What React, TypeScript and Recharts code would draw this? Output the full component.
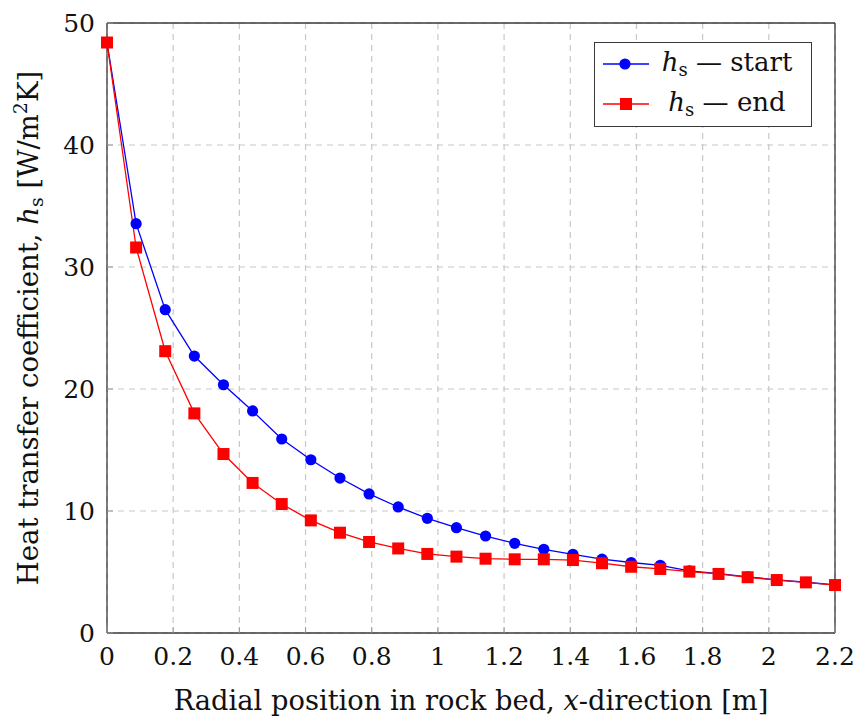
import { CartesianGrid, Label, Legend, Line, LineChart, ReferenceLine, XAxis, YAxis } from 'recharts'

// radial positions [m] and heat transfer coefficient h_s [W/m2K]
const positions = [
  0, 0.088, 0.176, 0.264, 0.352, 0.44, 0.528, 0.616, 0.704, 0.792, 0.88, 0.968, 1.056,
  1.144, 1.232, 1.32, 1.408, 1.496, 1.584, 1.672, 1.76, 1.848, 1.936, 2.024, 2.112, 2.2,
]
const hsStart = [
  48.4, 33.55, 26.5, 22.7, 20.35, 18.2, 15.9, 14.2, 12.7, 11.4, 10.33, 9.4, 8.63,
  7.95, 7.35, 6.86, 6.45, 6.05, 5.78, 5.55, 5.1, 4.86, 4.6, 4.36, 4.16, 3.95,
]
const hsEnd = [
  48.4, 31.6, 23.1, 18.0, 14.67, 12.3, 10.57, 9.23, 8.22, 7.46, 6.93, 6.48, 6.26,
  6.09, 6.04, 6.04, 5.98, 5.72, 5.43, 5.25, 5.03, 4.84, 4.57, 4.34, 4.15, 3.93,
]
const xTicks = [0, 0.2, 0.4, 0.6, 0.8, 1, 1.2, 1.4, 1.6, 1.8, 2, 2.2]
const yTicks = [0, 10, 20, 30, 40, 50]

const data = positions.map((x, i) => ({ x, start: hsStart[i], end: hsEnd[i] }))

const FONT = '"DejaVu Serif", serif'
const AXIS = '#3a3a3a'
const TEXT = '#111'

function XTick({ x, y, payload }: any) {
  return (
    <g>
      <line x1={x} x2={x} y1={y} y2={y - 6} stroke="#999" />
      <text x={x} y={y + 32} textAnchor="middle" fontSize={25} fontFamily={FONT} fill={TEXT}>
        {payload.value}
      </text>
    </g>
  )
}

function YTick({ x, y, payload }: any) {
  return (
    <g>
      <line x1={x} x2={x + 6} y1={y} y2={y} stroke="#999" />
      <text x={x - 12} y={y + 9} textAnchor="end" fontSize={25} fontFamily={FONT} fill={TEXT}>
        {payload.value}
      </text>
    </g>
  )
}

function XTitle({ viewBox }: any) {
  return (
    <text x={viewBox.x + viewBox.width / 2} y={viewBox.y + 77} textAnchor="middle" fontSize={27.3} fontFamily={FONT} fill={TEXT}>
      Radial position in rock bed, <tspan fontStyle="italic">x</tspan>-direction [m]
    </text>
  )
}

function YTitle({ viewBox }: any) {
  const cx = viewBox.x + 38
  const cy = viewBox.y + viewBox.height / 2
  return (
    <text x={cx} y={cy} transform={`rotate(-90, ${cx}, ${cy})`} textAnchor="middle" fontSize={27.5} fontFamily={FONT} fill={TEXT}>
      Heat transfer coefficient, <tspan fontStyle="italic">h</tspan>
      <tspan fontSize={19} dy={5}>s</tspan>
      <tspan dy={-5}> [W/m</tspan>
      <tspan fontSize={19} dy={-11}>2</tspan>
      <tspan dy={11}>K]</tspan>
    </text>
  )
}

function BlueDot({ cx, cy, index }: any) {
  return <circle key={`s-${index}`} cx={cx} cy={cy} r={5.6} fill="#0000ff" />
}

function RedSquare({ cx, cy, index }: any) {
  return <rect key={`e-${index}`} x={cx - 6} y={cy - 6} width={12} height={12} fill="#ff0000" />
}

function LegendRow({ color, square, label }: { color: string; square: boolean; label: string }) {
  return (
    <div style={{ display: 'flex', alignItems: 'center', height: 40 }}>
      <svg width={46} height={20}>
        <line x1={0} x2={46} y1={10} y2={10} stroke={color} strokeWidth={1.3} />
        {square ? <rect x={17} y={4} width={12} height={12} fill={color} /> : <circle cx={22} cy={10} r={5.6} fill={color} />}
      </svg>
      <span style={{ flex: 1, textAlign: 'center', paddingRight: 6, paddingTop: 4, whiteSpace: 'nowrap' }}>
        <i>h</i>
        <span style={{ fontSize: 18, verticalAlign: '-5px' }}>s</span> — {label}
      </span>
    </div>
  )
}

function LegendBox() {
  return (
    <div
      style={{
        width: 218,
        height: 85,
        boxSizing: 'border-box',
        border: `1.3px solid ${AXIS}`,
        background: '#fff',
        paddingLeft: 8,
        paddingTop: 1,
        fontFamily: FONT,
        fontSize: 26,
        color: TEXT,
        lineHeight: '36px',
      }}
    >
      <LegendRow color="#0000ff" square={false} label="start" />
      <LegendRow color="#ff0000" square label="end" />
    </div>
  )
}

export default function App() {
  return (
    <div style={{ position: 'absolute', left: 0, top: 0, width: 859, height: 721, background: '#fff' }}>
      <LineChart width={859} height={721} data={data} margin={{ top: 23, right: 24, bottom: 0, left: 0 }}>
        <CartesianGrid stroke="#c8c8c8" strokeDasharray="6 5" strokeWidth={1.2} />
        <XAxis
          dataKey="x"
          type="number"
          domain={[0, 2.2]}
          ticks={xTicks}
          interval={0}
          height={88}
          tickSize={0}
          tickMargin={0}
          tick={<XTick />}
          stroke={AXIS}
          strokeWidth={1.3}
        >
          <Label content={<XTitle />} />
        </XAxis>
        <YAxis
          type="number"
          domain={[0, 50]}
          ticks={yTicks}
          interval={0}
          width={107}
          tickSize={0}
          tickMargin={0}
          tick={<YTick />}
          stroke={AXIS}
          strokeWidth={1.3}
        >
          <Label content={<YTitle />} />
        </YAxis>
        <ReferenceLine y={50} stroke={AXIS} strokeWidth={1.3} />
        <ReferenceLine x={2.2} stroke={AXIS} strokeWidth={1.3} />
        <Legend
          layout="horizontal"
          verticalAlign="middle"
          align="center"
          content={<LegendBox />}
          wrapperStyle={{ left: 594, top: 42, width: 218, height: 85 }}
        />
        <Line
          dataKey="start"
          name="start"
          type="linear"
          stroke="#0000ff"
          strokeWidth={1.3}
          dot={<BlueDot />}
          isAnimationActive={false}
        />
        <Line
          dataKey="end"
          name="end"
          type="linear"
          stroke="#ff0000"
          strokeWidth={1.3}
          dot={<RedSquare />}
          isAnimationActive={false}
        />
      </LineChart>
    </div>
  )
}
